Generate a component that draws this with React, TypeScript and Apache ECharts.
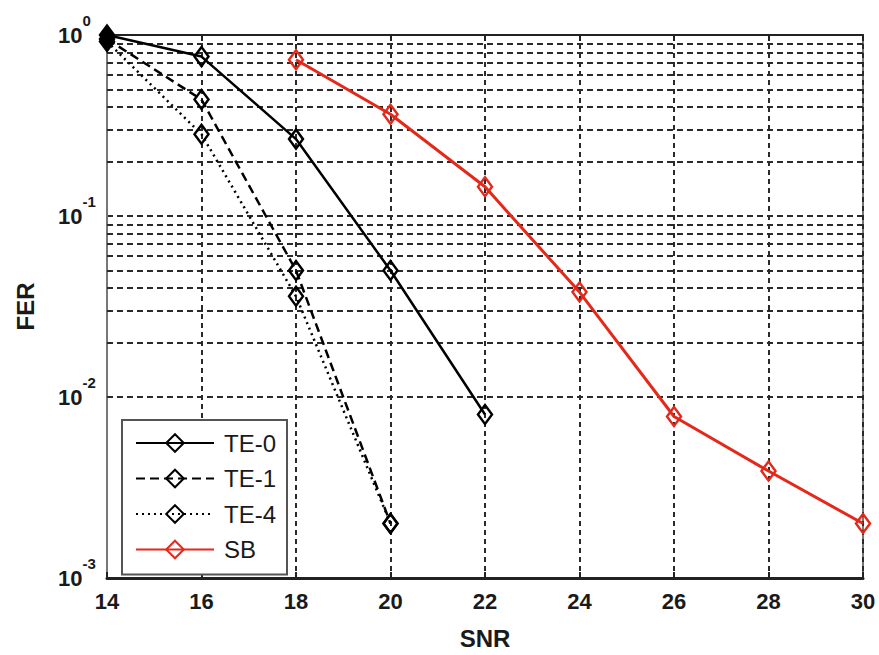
import React, { useEffect, useRef } from 'react';
import * as echarts from 'echarts';

// ---- data ----
const snrTE0 = [14, 16, 18, 20, 22];
const te0 = [1, 0.76, 0.266, 0.05, 0.008];
const snrTE1 = [14, 16, 18, 20];
const te1 = [0.95, 0.44, 0.05, 0.002];
const snrTE4 = [14, 16, 18, 20];
const te4 = [0.92, 0.283, 0.036, 0.002];
const snrSB = [18, 20, 22, 24, 26, 28, 30];
const sb = [0.73, 0.365, 0.145, 0.038, 0.0078, 0.0039, 0.002];
const seriesNames = ['TE-0', 'TE-1', 'TE-4', 'SB'];
const minorMultipliers = [2, 3, 4, 5, 6, 7, 8, 9];
const decades = [0.001, 0.01, 0.1];

const FONT = '"Liberation Sans", Arial, sans-serif';
const TXT = '#1a1a1a';

function pairs(xs: number[], ys: number[], firstFilled = false) {
  return xs.map((x, i) =>
    i === 0 && firstFilled
      ? { value: [x, ys[i]], itemStyle: { color: '#000' } }
      : { value: [x, ys[i]] }
  );
}

export default function App() {
  const ref = useRef<HTMLDivElement>(null);
  useEffect(() => {
    if (!ref.current) return;
    const chart = echarts.init(ref.current, null, { renderer: 'svg' });
    const minors: number[] = [];
    decades.forEach((d) => minorMultipliers.forEach((m) => minors.push(m * d)));
    const gridDash = { type: [6, 4] as any, color: '#2a2a2a', width: 2 };
    const mk = (color: string, dash: any, width: number) => ({
      type: 'line' as const,
      symbol: 'diamond',
      symbolSize: [14, 19],
      z: 5,
      lineStyle: { color, type: dash, width },
      itemStyle: { color: 'rgba(255,255,255,0)', borderColor: color, borderWidth: 2.5 },
    });
    chart.setOption({
      animation: false,
      backgroundColor: '#fff',
      grid: { left: 107, right: 16, top: 35, bottom: 72, show: true, borderColor: '#777', borderWidth: 2 },
      legend: {
        data: seriesNames,
        orient: 'vertical',
        left: 122,
        top: 420,
        width: 166,
        backgroundColor: '#fff',
        borderColor: '#555',
        borderWidth: 2,
        borderRadius: 0,
        padding: [11, 11, 13, 13],
        itemWidth: 78,
        itemHeight: 22,
        itemGap: 11.5,
        textStyle: { fontFamily: FONT, fontSize: 24, color: TXT, padding: [0, 0, 0, 5] },
      },
      xAxis: [
        {
          type: 'value',
          min: 14,
          max: 30,
          interval: 2,
          name: 'SNR',
          nameLocation: 'middle',
          nameGap: 48,
          nameTextStyle: { fontFamily: FONT, fontSize: 24, fontWeight: 'bold', color: TXT },
          axisLine: { lineStyle: { color: '#222', width: 3 } },
          axisTick: { inside: true, length: 6, lineStyle: { color: '#222', width: 2 } },
          axisLabel: { fontFamily: FONT, fontSize: 22, fontWeight: 'bold', color: TXT, margin: 12 },
          splitLine: { show: true, lineStyle: { type: [5, 4], color: '#2a2a2a', width: 2 } },
        },
        {
          type: 'value',
          position: 'top',
          min: 14,
          max: 30,
          interval: 2,
          axisLine: { lineStyle: { color: '#222', width: 2 } },
          axisTick: { inside: true, length: 6, lineStyle: { color: '#222', width: 2 } },
          axisLabel: { show: false },
          splitLine: { show: false },
        },
      ],
      yAxis: {
        type: 'log',
        logBase: 10,
        min: 0.001,
        max: 1,
        name: 'FER',
        nameLocation: 'middle',
        nameGap: 70,
        nameTextStyle: { fontFamily: FONT, fontSize: 24, fontWeight: 'bold', color: TXT },
        axisLine: { show: true, lineStyle: { color: '#777', width: 2 } },
        axisTick: { show: false },
        axisLabel: {
          align: 'left',
          margin: 49,
          formatter: (v: number) => `{b|10}{s|${Math.round(Math.log10(v))}}`,
          rich: {
            b: { fontFamily: FONT, fontSize: 22, fontWeight: 'bold', color: TXT, lineHeight: 44, verticalAlign: 'middle' },
            s: { fontFamily: FONT, fontSize: 15, fontWeight: 'bold', color: TXT, lineHeight: 44, verticalAlign: 'top' },
          },
        },
        splitLine: { show: true, lineStyle: gridDash },
      },
      series: [
        {
          name: 'minor-grid',
          type: 'line',
          data: [],
          z: 1,
          silent: true,
          markLine: {
            silent: true,
            symbol: ['none', 'none'],
            label: { show: false },
            lineStyle: gridDash,
            emphasis: { disabled: true },
            data: minors.map((v) => ({ yAxis: v })),
          },
        },
        { name: 'TE-0', ...mk('#000', 'solid', 2.5), data: pairs(snrTE0, te0, true) },
        { name: 'TE-1', ...mk('#000', [9, 5], 2.5), data: pairs(snrTE1, te1, true) },
        { name: 'TE-4', ...mk('#000', [2, 4], 2.5), data: pairs(snrTE4, te4, true) },
        { name: 'SB', ...mk('#e4281a', 'solid', 3), data: pairs(snrSB, sb) },
      ],
    });
    return () => chart.dispose();
  }, []);
  return <div ref={ref} style={{ width: 879, height: 655, position: 'absolute', left: 0, top: 0 }} />;
}
